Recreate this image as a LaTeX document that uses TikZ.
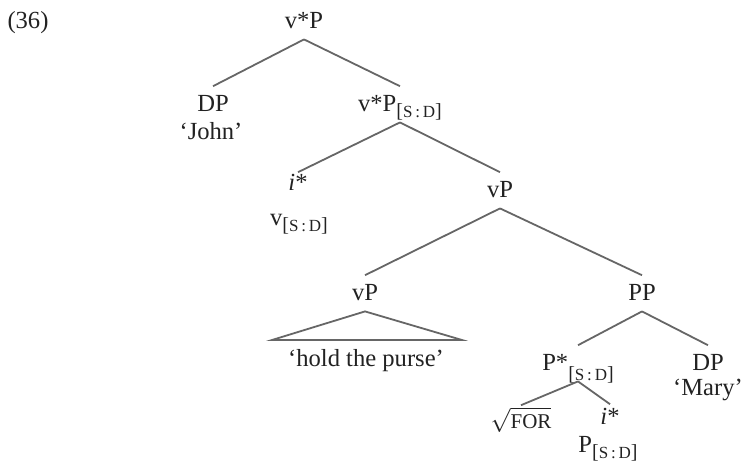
\documentclass[tikz,border=0pt]{standalone}
\usepackage{fontspec}
\setmainfont{Liberation Serif}
\definecolor{inkgray}{HTML}{222222}
\definecolor{branchgray}{HTML}{666666}
\newcommand{\sdfeat}[1][-3pt]{\raisebox{#1}{\fontsize{10}{11}\selectfont[\fontsize{8.5}{9}\selectfont S\,:\,D\fontsize{10}{11}\selectfont]}}
\tikzstyle{cat} = [
    anchor=base,
    inner xsep=1pt,
    inner ysep=4pt,
    text height=8.2pt,
    text depth=1.5pt,
    text=inkgray,
    font=\fontsize{12.3}{14}\selectfont
]
\tikzstyle{gloss} = [cat, inner ysep=1pt]
\tikzstyle{head} = [cat, inner ysep=0.5pt]
\tikzstyle{branch} = [draw=branchgray, line width=0.9pt]

\begin{document}
\begin{tikzpicture}[x=0.5pt, y=-0.5pt]

\useasboundingbox (0,0) rectangle (744,467);

\node (ex) [cat] at (28,28) {(36)};

% top of the tree
\node (vstarp) [cat] at (304,28) {v*P};
\node (dpjohn) [cat] at (213,111) {DP};
\node (john) [gloss] at (211,139) {`John'};
\node (vstarbar) [cat] at (400,111) {v*P\sdfeat};

\node (istar) [head] at (298,190) {\textit{i}*};
\node (vsd) [gloss] at (299,225) {v\sdfeat};
\node (vp) [cat] at (500,197) {vP};

% lower vP and its roof
\node (vplow) [cat] at (365,300) {vP};
\coordinate (roofleft) at (272,340);
\coordinate (roofright) at (462,340);
\node (purse) [gloss] at (366,366) {`hold the purse'};

% the PP
\node (pp) [cat] at (642,300) {PP};
\node (pstar) [cat] at (578,370) {P*\sdfeat[-5pt]};
\node (dpmary) [cat] at (708,370) {DP};
\node (mary) [gloss] at (708,395) {`Mary'};
\node (root) [head, inner ysep=3pt] at (521,428) {$\sqrt{\mbox{\fontsize{10.5}{11}\selectfont FOR}}$};
\node (istarp) [head, inner ysep=1.5pt] at (610,424) {\textit{i}*};
\node (psd) [gloss] at (608,452) {P\sdfeat};

\draw [branch] (vstarp.south) -- (dpjohn.north);
\draw [branch] (vstarp.south) -- (vstarbar.north);
\draw [branch] (vstarbar.south) -- (istar.north);
\draw [branch] (vstarbar.south) -- (vp.north);
\draw [branch] (vp.south) -- (vplow.north);
\draw [branch] (vp.south) -- (pp.north);
\draw [branch] (vplow.south) -- (roofleft) -- (roofright) -- cycle;
\draw [branch] (pp.south) -- (pstar.north);
\draw [branch] (pp.south) -- (dpmary.north);
\draw [branch] (pstar.south) -- (root.north);
\draw [branch] (pstar.south) -- (istarp.north);

\end{tikzpicture}
\end{document}
